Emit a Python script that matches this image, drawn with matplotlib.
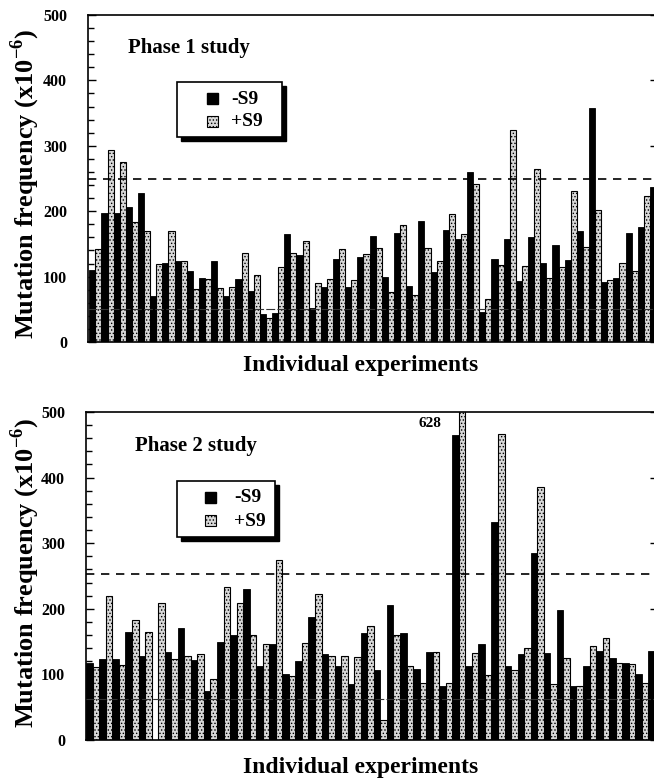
import matplotlib
matplotlib.use('Agg')
import matplotlib.pyplot as plt
from matplotlib.patches import Rectangle

W, H = 654, 778
plt.rcParams['font.family'] = ['Liberation Serif', 'DejaVu Serif']
plt.rcParams['font.weight'] = 'bold'
plt.rcParams['mathtext.fontset'] = 'custom'
plt.rcParams['mathtext.rm'] = 'Liberation Serif:bold'
plt.rcParams['hatch.linewidth'] = 0.6
plt.rcParams['hatch.color'] = '#555555'

# ---------------- data ----------------
phase1_minus = [110, 197, 197, 206, 228, 70, 121, 124, 109, 98, 124, 70, 96, 78, 43, 44,
                165, 133, 52, 84, 127, 84, 130, 162, 100, 167, 86, 185, 107, 171, 157, 260,
                46, 127, 157, 93, 160, 121, 148, 125, 170, 358, 92, 98, 167, 176, 237]
phase1_plus = [142, 294, 275, 183, 170, 119, 170, 124, 81, 96, 83, 84, 136, 102, 37, 115,
               136, 154, 90, 96, 142, 95, 134, 144, 77, 179, 72, 144, 124, 196, 165, 242,
               66, 118, 324, 116, 264, 98, 115, 231, 146, 202, 95, 121, 109, 223]
phase1_lines = [250, 50]

phase2_minus = [117, 123, 123, 165, 128, 0, 134, 171, 122, 75, 149, 160, 230, 113, 146, 101,
                120, 188, 131, 113, 85, 163, 107, 206, 163, 108, 134, 82, 465, 113, 146, 332,
                113, 131, 285, 133, 198, 82, 113, 136, 125, 117, 101, 136]
phase2_plus = [111, 220, 114, 183, 165, 209, 123, 128, 131, 93, 233, 209, 160, 146, 274, 98,
               148, 222, 128, 128, 126, 174, 30, 160, 113, 87, 134, 87, 628, 133, 99, 466,
               107, 140, 386, 85, 125, 82, 143, 155, 117, 116, 87, 163]
phase2_lines = [253, 62]

titles = ['Phase 1 study', 'Phase 2 study']
legend_labels = ['-S9', '+S9']
ylabel = 'Mutation frequency (x10$^{\\mathregular{-6}}$)'
xlabel = 'Individual experiments'
clipped_label = '628'

fig = plt.figure(figsize=(W / 100, H / 100), dpi=100)


def fx(x):
    return x / W


def fy(y):
    return 1 - y / H


def panel(rect, minus, plus, lines, xlim):
    ax = fig.add_axes(rect)
    xm = list(range(len(minus)))
    xp = [i + 0.5 for i in range(len(plus))]
    ax.bar(xm, minus, width=0.5, align='edge', color='black', edgecolor='black', linewidth=0.6, zorder=2)
    ax.bar(xp, plus, width=0.5, align='edge', facecolor='#d8d8d8', edgecolor='black',
           linewidth=0.8, hatch='.....', zorder=2)
    ax.axhline(lines[0], color='black', lw=1.2, ls=(0, (5, 4)), zorder=3)
    ax.axhline(lines[1], color='#333333', lw=0.8, ls=(0, (8, 2)), zorder=3)
    ax.set_xlim(*xlim)
    ax.set_ylim(0, 500)
    ax.set_xticks([])
    ax.set_yticks(range(0, 501, 100))
    ax.set_yticks(range(0, 501, 20), minor=True)
    ax.tick_params(axis='y', which='major', direction='in', length=6, width=1,
                   left=True, right=True, pad=15, labelsize=11.5)
    ax.tick_params(axis='y', which='minor', direction='in', length=4, width=1,
                   left=True, right=False)
    for s in ax.spines.values():
        s.set_linewidth(1.2)
    return ax


ax1 = panel([fx(88), fy(342), (658 - 88) / W, (342 - 15) / H],
            phase1_minus, phase1_plus, phase1_lines, (-0.1, 46.66))
ax2 = panel([fx(86), fy(740), (658 - 86) / W, (740 - 412) / H],
            phase2_minus, phase2_plus, phase2_lines, (-0.02, 43.74))


def legend(box, m1y, m2y, tx, mx):
    x0, y0, x1, y1 = box
    fig.patches.append(Rectangle((fx(x0 + 3.5), fy(y1 + 3.5)), (x1 - x0) / W, (y1 - y0) / H,
                                 transform=fig.transFigure, facecolor='black', edgecolor='black', zorder=5))
    fig.patches.append(Rectangle((fx(x0), fy(y1)), (x1 - x0) / W, (y1 - y0) / H,
                                 transform=fig.transFigure, facecolor='white', edgecolor='black',
                                 linewidth=1.2, zorder=6))
    fig.patches.append(Rectangle((fx(mx), fy(m1y + 5.5)), 11 / W, 11 / H, transform=fig.transFigure,
                                 facecolor='black', edgecolor='black', zorder=7))
    fig.patches.append(Rectangle((fx(mx), fy(m2y + 5.5)), 11 / W, 11 / H, transform=fig.transFigure,
                                 facecolor='#d8d8d8', edgecolor='black', hatch='.....', linewidth=0.8, zorder=7))
    fig.text(fx(tx), fy(m1y + 1), legend_labels[0], fontsize=14, ha='left', va='center', zorder=8)
    fig.text(fx(tx), fy(m2y + 1), legend_labels[1], fontsize=14, ha='left', va='center', zorder=8)


legend((177, 82, 282, 137), 98, 121, 231, 207)
legend((177, 481, 275, 537), 497, 520, 234, 205)

fig.text(fx(128), fy(48), titles[0], fontsize=15, ha='left', va='center')
fig.text(fx(135), fy(446), titles[1], fontsize=15, ha='left', va='center')

fig.text(fx(25), fy(184), ylabel, fontsize=19, rotation=90, ha='center', va='center')
fig.text(fx(25), fy(573), ylabel, fontsize=19, rotation=90, ha='center', va='center')

fig.text(fx(361), fy(366), xlabel, fontsize=17, ha='center', va='center')
fig.text(fx(361), fy(767), xlabel, fontsize=17, ha='center', va='center')

fig.text(fx(430), fy(424), clipped_label, fontsize=11, ha='center', va='center')

fig.savefig('out.png', dpi=100)
